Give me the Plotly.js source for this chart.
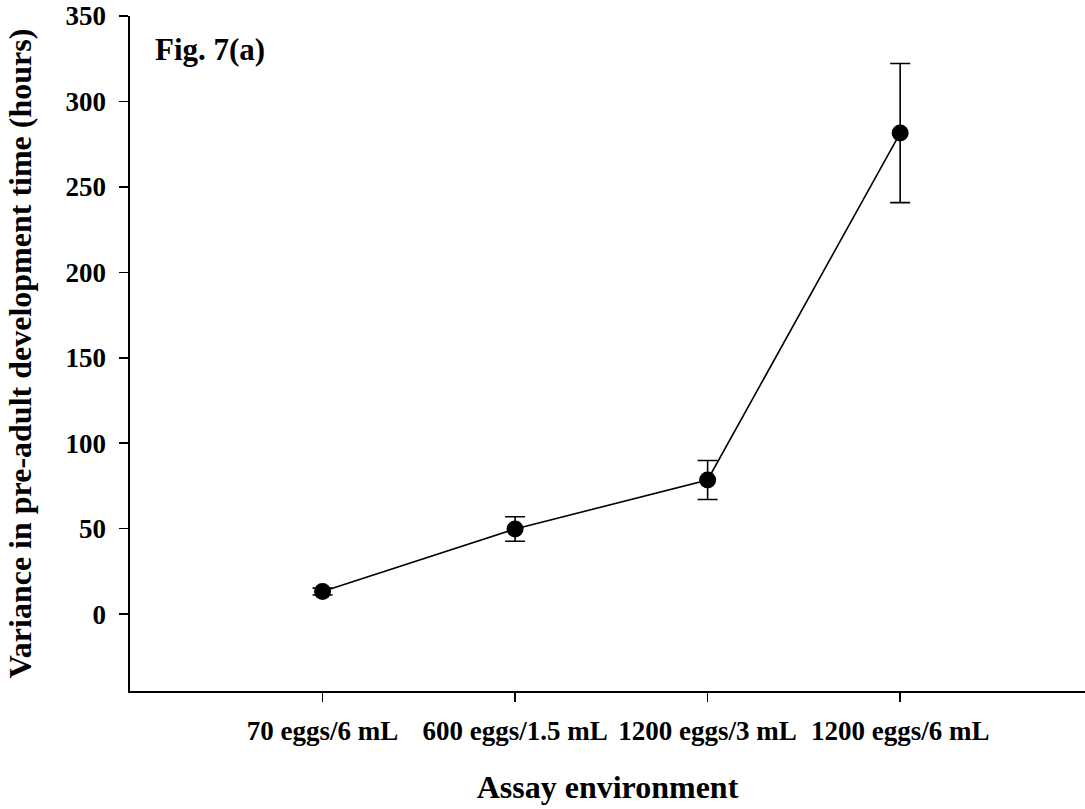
<!DOCTYPE html>
<html>
<head>
<meta charset="utf-8">
<script src="https://cdn.plot.ly/plotly-3.0.1.min.js"></script>
<style>html,body{margin:0;padding:0;background:#fff;}#chart{width:1085px;height:809px;}</style>
</head>
<body>
<div id="chart"></div>
<script>
var categories = ["70 eggs/6 mL", "600 eggs/1.5 mL", "1200 eggs/3 mL", "1200 eggs/6 mL"];
var variance = [13.2, 49.8, 78.5, 281.5];
var errors = [2.0, 7.2, 11.4, 40.7];
var yTicks = [0, 50, 100, 150, 200, 250, 300, 350];

var xIdx = categories.map(function(c, i){ return i; });
var fam = "Liberation Serif, Times New Roman, serif";

var trace = {
  x: xIdx, y: variance, type: "scatter", mode: "lines+markers",
  line: {color: "#000", width: 1.6},
  marker: {color: "#000", size: 17},
  error_y: {type: "data", array: errors, visible: true, color: "#000", thickness: 1.6, width: 10},
  hoverinfo: "skip"
};

var layout = {
  width: 1085, height: 809,
  margin: {l: 130, r: 0, t: 16, b: 118},
  paper_bgcolor: "#fff", plot_bgcolor: "#fff",
  showlegend: false,
  font: {family: fam, size: 27, weight: "bold", color: "#000"},
  xaxis: {
    range: [-1, 3.96], tickmode: "array", tickvals: xIdx, ticktext: categories,
    ticks: "outside", ticklen: 9, tickwidth: 1.5, tickcolor: "#000",
    ticklabelstandoff: 6,
    showline: true, linecolor: "#000", linewidth: 1.6, showgrid: false, zeroline: false,
    tickfont: {family: fam, size: 27, weight: "bold", color: "#000"},
    title: {text: "Assay environment", font: {family: fam, size: 32, weight: "bold", color: "#000"}, standoff: 30},
    automargin: false, fixedrange: true
  },
  yaxis: {
    range: [-45, 350], tickmode: "array", tickvals: yTicks,
    ticks: "outside", ticklen: 9, tickwidth: 1.5, tickcolor: "#000",
    ticklabelstandoff: 8,
    showline: true, linecolor: "#000", linewidth: 1.6, showgrid: false, zeroline: false,
    tickfont: {family: fam, size: 27, weight: "bold", color: "#000"},
    title: {text: "Variance in pre-adult development time (hours)", font: {family: fam, size: 32, weight: "bold", color: "#000"}, standoff: 24},
    automargin: false, fixedrange: true
  },
  annotations: [{
    text: "Fig. 7(a)", xref: "paper", yref: "paper", x: 0.024, y: 0.979, xanchor: "left", yanchor: "top",
    showarrow: false, font: {family: fam, size: 31, weight: "bold", color: "#000"}
  }]
};

Plotly.newPlot("chart", [trace], layout, {displayModeBar: false, staticPlot: true});
</script>
</body>
</html>
